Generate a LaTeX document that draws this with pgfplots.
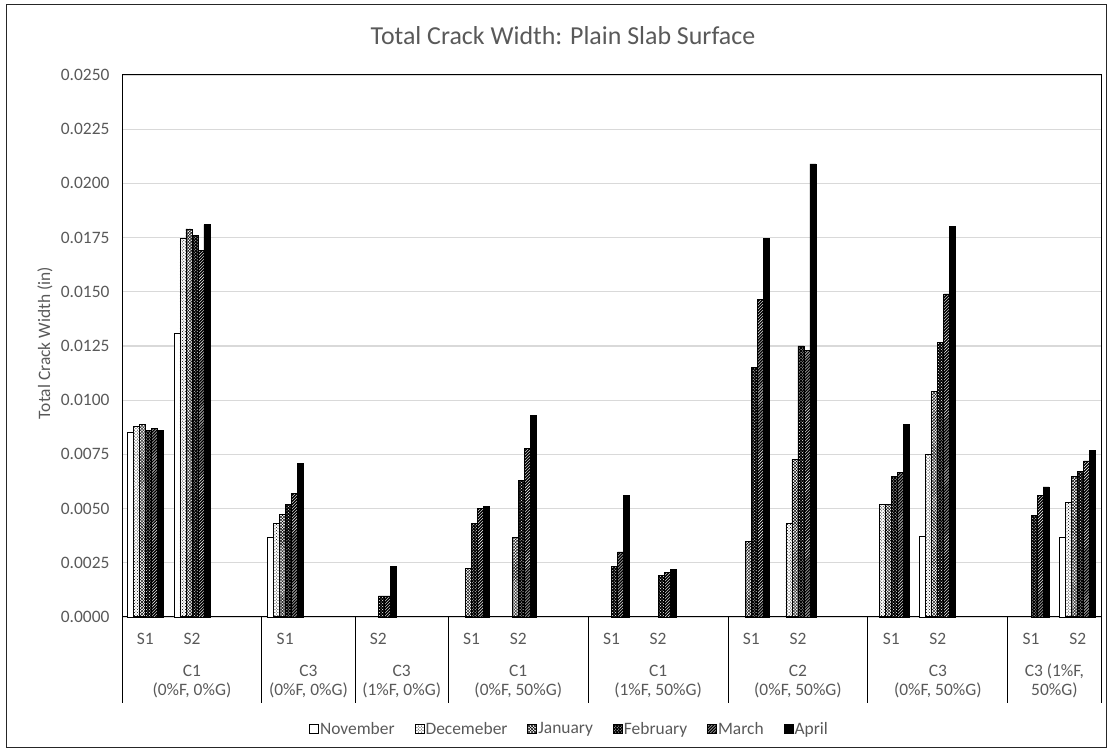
\documentclass[border=0pt]{standalone}
\usepackage{pgfplots}
\pgfplotsset{compat=1.18}
\usepackage{fontspec}
\setmainfont{Carlito}
\usetikzlibrary{patterns}
\definecolor{txtgray}{HTML}{595959}
\definecolor{gridgray}{HTML}{D9D9D9}
\newcommand{\lblfont}{\fontsize{17.5}{20}\selectfont}
\newcommand{\titlefont}{\fontsize{26}{30}\selectfont}
\tikzset{grpa/.style={font=\lblfont, text=txtgray, anchor=base, yshift=-60bp},
         grpb/.style={font=\lblfont, text=txtgray, anchor=base, yshift=-79bp}}
\begin{document}
\begin{tikzpicture}[x=1bp,y=1bp]
\useasboundingbox (0,0) rectangle (1112,753);
\draw[black!85, line width=1bp] (6.5,5.5) rectangle (1106,748);
\node[font=\titlefont, text=txtgray, anchor=base] at (563,708) {Total Crack Width: Plain Slab Surface};
\node[font=\lblfont, text=txtgray, rotate=90, anchor=center] at (45,410) {Total Crack Width (in)};
\begin{axis}[
  at={(122bp,136bp)}, anchor=south west,
  width=979bp, height=542bp, scale only axis,
  xmin=-0.5, xmax=20.5, ymin=0, ymax=0.025,
  ybar=0pt, bar width=6bp,
  clip=false,
  axis line style={black, line width=1bp},
  ytick={0,0.0025,...,0.0251},
  /pgf/number format/fixed,
  /pgf/number format/fixed zerofill,
  /pgf/number format/precision=4,
  /pgf/number format/assume math mode=true,
  yticklabel style={font=\lblfont, text=txtgray, xshift=-9bp},
  scaled y ticks=false,
  ymajorgrids, grid style={gridgray, line width=1.3bp},
  major tick length=0pt,
  xtick={0,1,3,5,7,8,10,11,13,14,16,17,19,20},
  xticklabels={S1,S2,S1,S2,S1,S2,S1,S2,S1,S2,S1,S2,S1,S2},
  xticklabel style={font=\lblfont, text=txtgray, anchor=base, yshift=-28bp},
  every axis plot/.append style={draw=black, line width=0.75bp},
  legend columns=-1,
  legend style={at={(0.4566,-0.2066)}, anchor=center, draw=none, fill=none, font=\lblfont, text=txtgray,
    nodes={inner xsep=1bp},
    /tikz/every even column/.append style={column sep=19bp}},
  legend image code/.code={\draw[#1, line width=0.9bp] (0bp,-4.5bp) rectangle (9bp,4.5bp);},
]
% November
\addplot[fill=white] coordinates {(0,0.0085) (1,0.0131) (3,0.00365) (17,0.0037) (20,0.00365)};
% December
\addplot[fill=white, pattern=crosshatch dots, pattern color=black] coordinates {(0,0.0088) (1,0.01745) (3,0.0043) (14,0.0043) (16,0.0052) (17,0.0075) (20,0.0053)};
% January
\addplot[fill=white, pattern=crosshatch, pattern color=black] coordinates {(0,0.0089) (1,0.0179) (3,0.00475) (7,0.00223) (8,0.00366) (13,0.0035) (14,0.00725) (16,0.0052) (17,0.0104) (20,0.0065)};
% February
\addplot[fill=black, postaction={pattern=crosshatch dots, pattern color=white}] coordinates {(0,0.0086) (1,0.0176) (3,0.0052) (5,0.00097) (7,0.0043) (8,0.0063) (10,0.00232) (11,0.0019) (13,0.0115) (14,0.0125) (16,0.0065) (17,0.01265) (19,0.0047) (20,0.0067)};
% March
\addplot[fill=black, postaction={pattern=north east lines, pattern color=white}] coordinates {(0,0.0087) (1,0.0169) (3,0.0057) (5,0.00097) (7,0.0050) (8,0.00776) (10,0.0030) (11,0.00204) (13,0.01466) (14,0.0123) (16,0.00665) (17,0.0149) (19,0.0056) (20,0.0072)};
% April
\addplot[fill=black] coordinates {(0,0.0086) (1,0.0181) (3,0.0071) (5,0.00233) (7,0.0051) (8,0.0093) (10,0.0056) (11,0.0022) (13,0.01745) (14,0.0209) (16,0.0089) (17,0.0180) (19,0.0060) (20,0.0077)};
\legend{November,Decemeber,January,February,March,April}
% category separators
\pgfplotsinvokeforeach{-0.5,2.5,4.5,6.5,9.5,12.5,15.5,18.5,20.5}{
  \draw[black, line width=1bp] (axis cs:#1,0) -- ([yshift=-86bp]axis cs:#1,0);
}
% group labels
\node[grpa] at (axis cs:1,0) {C1};    \node[grpb] at (axis cs:1,0) {(0\%F, 0\%G)};
\node[grpa] at (axis cs:3.5,0) {C3};  \node[grpb] at (axis cs:3.5,0) {(0\%F, 0\%G)};
\node[grpa] at (axis cs:5.5,0) {C3};  \node[grpb] at (axis cs:5.5,0) {(1\%F, 0\%G)};
\node[grpa] at (axis cs:8,0) {C1};    \node[grpb] at (axis cs:8,0) {(0\%F, 50\%G)};
\node[grpa] at (axis cs:11,0) {C1};   \node[grpb] at (axis cs:11,0) {(1\%F, 50\%G)};
\node[grpa] at (axis cs:14,0) {C2};   \node[grpb] at (axis cs:14,0) {(0\%F, 50\%G)};
\node[grpa] at (axis cs:17,0) {C3};   \node[grpb] at (axis cs:17,0) {(0\%F, 50\%G)};
\node[grpa] at (axis cs:19.5,0) {C3 (1\%F,}; \node[grpb] at (axis cs:19.5,0) {50\%G)};
\end{axis}
\end{tikzpicture}
\end{document}
